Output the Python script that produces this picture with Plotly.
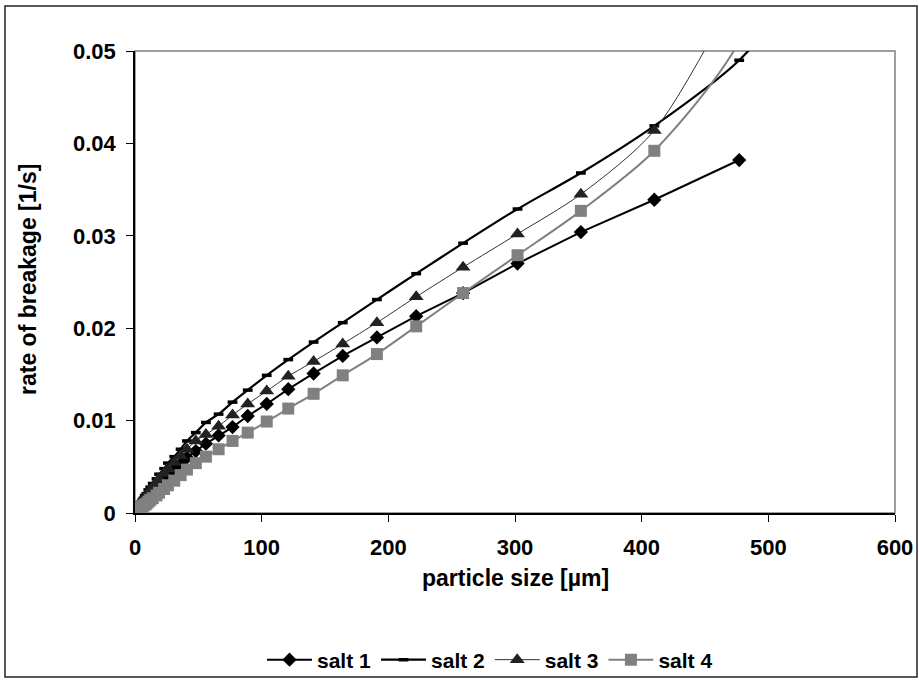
import plotly.graph_objects as go

# particle sizes [µm] (sieve classes)
size_um = [555, 477, 410, 352, 302, 259, 222, 191, 164, 141, 121, 104, 89, 77, 66, 56, 48, 41, 36, 31,
           26, 23, 19, 17, 14, 12, 10.5, 9, 7.7, 6.6, 5.7, 4.9, 4.2, 3.6, 3.1, 2.6, 2.3, 1.9, 1.7,
           1.4, 1.2, 1.0]

salt1 = [None, 0.0382, 0.0339, 0.0304, 0.0270, 0.0238, 0.0213, 0.0190, 0.0170, 0.0151, 0.0134, 0.0118,
         0.0105, 0.0093, 0.0084, 0.0075, 0.0067, 0.0060, 0.0053, 0.0047, 0.0041, 0.0036, 0.0031,
         0.0028, 0.0024, 0.0021, 0.0018, 0.0016, 0.0014, 0.0012, 0.0011, 0.0009, 0.0008, 0.0007,
         0.0006, 0.0005, 0.00045, 0.0004, 0.00035, 0.0003, 0.00025, 0.0002]

salt2 = [0.062, 0.0490, 0.0419, 0.0368, 0.0329, 0.0292, 0.0259, 0.0231, 0.0206, 0.0185, 0.0166, 0.0149,
         0.0133, 0.0120, 0.0107, 0.0098, 0.0087, 0.0078, 0.0069, 0.0061, 0.0054, 0.0048, 0.0042,
         0.0037, 0.0032, 0.0028, 0.0025, 0.0021, 0.0019, 0.0016, 0.0014, 0.0012, 0.0011, 0.0009,
         0.0008, 0.0007, 0.0006, 0.0005, 0.00045, 0.0004, 0.00035, 0.0003]

salt3 = [None, 0.057, 0.0414, 0.0345, 0.0302, 0.0266, 0.0234, 0.0206, 0.0183, 0.0164, 0.0148, 0.0132,
         0.0118, 0.0106, 0.0094, 0.0085, 0.0078, 0.0069, 0.0062, 0.0055, 0.0048, 0.0043, 0.0037,
         0.0033, 0.0028, 0.0025, 0.0022, 0.0019, 0.0016, 0.0014, 0.0012, 0.0011, 0.0009, 0.0008,
         0.0007, 0.0006, 0.0005, 0.00045, 0.0004, 0.00035, 0.0003, 0.00025]

salt4 = [0.080, 0.0510, 0.0392, 0.0327, 0.0279, 0.0238, 0.0202, 0.0172, 0.0149, 0.0129, 0.0113, 0.0099,
         0.0087, 0.0078, 0.0069, 0.0061, 0.0054, 0.0047, 0.0041, 0.0035, 0.0030, 0.0026, 0.0022,
         0.0019, 0.0016, 0.0014, 0.0012, 0.0010, 0.0009, 0.0008, 0.0007, 0.0006, 0.0005, 0.00045,
         0.0004, 0.00035, 0.0003, 0.00025, 0.0002, 0.00018, 0.00015, 0.00012]

series_names = ["salt 1", "salt 2", "salt 3", "salt 4"]
x_title = "particle size [µm]"
y_title = "rate of breakage [1/s]"

FONT = "Arial, 'Liberation Sans', sans-serif"


def pts(vals):
    xs, ys = [], []
    for x, v in zip(size_um, vals):
        if v is not None:
            xs.append(x)
            ys.append(v)
    return xs, ys


fig = go.Figure()

x1, y1 = pts(salt1)
fig.add_trace(go.Scatter(x=x1, y=y1, name="<b>" + series_names[0] + "</b>", mode="lines+markers",
                         line=dict(color="black", width=2),
                         marker=dict(symbol="diamond", size=11, color="black")))
x2, y2 = pts(salt2)
fig.add_trace(go.Scatter(x=x2, y=y2, name="<b>" + series_names[1] + "</b>", mode="lines+markers",
                         line=dict(color="black", width=2.2, shape="spline", smoothing=0.8),
                         marker=dict(symbol="line-ew", size=7, color="black",
                                     line=dict(color="black", width=3.5))))
x3, y3 = pts(salt3)
fig.add_trace(go.Scatter(x=x3, y=y3, name="<b>" + series_names[2] + "</b>", mode="lines+markers",
                         line=dict(color="#333333", width=1, shape="spline", smoothing=0.8),
                         marker=dict(symbol="triangle-up", size=13, color="#222222")))
x4, y4 = pts(salt4)
fig.add_trace(go.Scatter(x=x4, y=y4, name="<b>" + series_names[3] + "</b>", mode="lines+markers",
                         line=dict(color="#808080", width=2, shape="spline", smoothing=0.8),
                         marker=dict(symbol="square", size=12, color="#808080")))

L, R, T, B = 135, 24, 51, 168
W, H = 919, 681
pw, ph = W - L - R, H - T - B


def px_x(p):
    return (p - L) / pw


def px_y(p):
    return (H - B - p) / ph


fig.update_layout(
    width=W, height=H,
    margin=dict(l=L, r=R, t=T, b=B, pad=0, autoexpand=False),
    paper_bgcolor="white", plot_bgcolor="white",
    font=dict(family=FONT, color="black", size=21),
    showlegend=True,
    legend=dict(orientation="h", x=px_x(490), xanchor="center",
                y=px_y(660), yanchor="middle",
                font=dict(family=FONT, size=21, color="black"),
                bgcolor="rgba(0,0,0,0)", itemwidth=45, tracegroupgap=0),
    xaxis=dict(range=[0, 600], dtick=100, tick0=0, showgrid=False, zeroline=False,
               showline=True, linecolor="black", linewidth=1.5,
               ticks="outside", ticklen=7, tickcolor="black", tickwidth=1,
               tickprefix="<b>", ticksuffix="</b>", ticklabelstandoff=7,
               tickfont=dict(family=FONT, size=22, color="black")),
    yaxis=dict(range=[0, 0.05], dtick=0.01, tick0=0, showgrid=False, zeroline=False,
               showline=True, linecolor="black", linewidth=1.5,
               ticks="outside", ticklen=7, tickcolor="black", tickwidth=1,
               tickprefix="<b>", ticksuffix="</b>", ticklabelstandoff=6,
               tickfont=dict(family=FONT, size=22, color="black")),
)

fig.add_annotation(text="<b>" + x_title + "</b>", xref="paper", yref="paper",
                   x=px_x(515), y=px_y(578), xanchor="center", yanchor="middle",
                   showarrow=False, font=dict(family=FONT, size=23, color="black"))
fig.add_annotation(text="<b>" + y_title + "</b>", xref="paper", yref="paper",
                   x=px_x(28), y=px_y(280), xanchor="center", yanchor="middle", textangle=-90,
                   showarrow=False, font=dict(family=FONT, size=23, color="black"))

# plot area frame (gray) and chart border (black)
fig.add_shape(type="rect", xref="paper", yref="paper", x0=0, x1=1, y0=0, y1=1,
              line=dict(color="#808080", width=1.5), layer="below")
fig.add_shape(type="rect", xref="paper", yref="paper",
              x0=px_x(5), x1=px_x(917), y0=px_y(677), y1=px_y(6),
              line=dict(color="#222222", width=1.5), layer="below")

fig.write_html("out.html", config={"displayModeBar": False},
               post_script="document.body.style.margin='0';document.body.style.overflow='hidden';")
